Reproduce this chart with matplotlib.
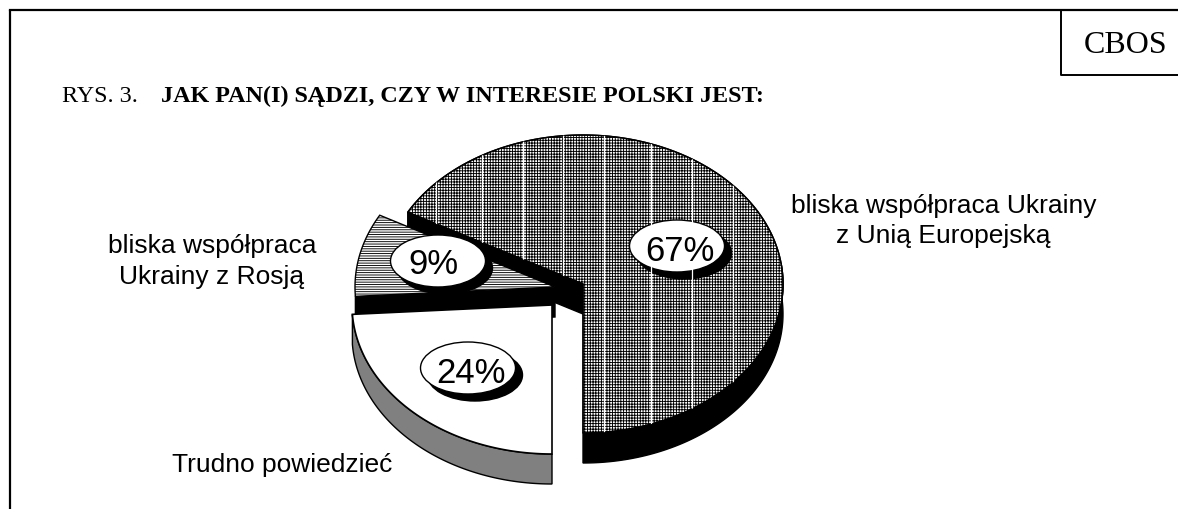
import numpy as np
import matplotlib
matplotlib.use("Agg")
import matplotlib.pyplot as plt
from matplotlib.patches import Polygon, Ellipse

# data
shares = [67, 9, 24]
pct_labels = ["67%", "9%", "24%"]
title_prefix = "RYS. 3."
title_text = "JAK PAN(I) SĄDZI, CZY W INTERESIE POLSKI JEST:"
source_text = "CBOS"

plt.rcParams['hatch.linewidth'] = 0.65

fig = plt.figure(figsize=(11.78, 5.10), dpi=100)
ax = fig.add_axes([0, 0, 1, 1])
ax.set_xlim(0, 1178)
ax.set_ylim(510, 0)
ax.axis('off')

RX = 200
RY = 149
DEPTH = 30


def disc(cx, cy, t):
    t = np.radians(t)
    return cx + RX * np.cos(t), cy - RY * np.sin(t)


def top_face(cx, cy, t0, t1):
    t = np.linspace(t0, t1, 200)
    x, y = disc(cx, cy, t)
    return np.column_stack([np.r_[cx, x], np.r_[cy, y]])


def outer_wall(cx, cy, t0, t1):
    t = np.linspace(t0, t1, 200)
    x, y = disc(cx, cy, t)
    return np.column_stack([np.r_[x, x[::-1]], np.r_[y, y[::-1] + DEPTH]])


def cut_wall(cx, cy, t):
    x, y = disc(cx, cy, t)
    return [(cx, cy), (x, y), (x, y + DEPTH), (cx, cy + DEPTH)]


# slice angles from the shares, starting at 6 o'clock going counter clockwise
angles = -90 + np.cumsum([0] + shares) * 3.6
main_c = (583, 285)
small_c = (555, 288)
rest_c = (552, 306)

# main slice
ax.add_patch(Polygon(outer_wall(*main_c, angles[0], 8), fc='black', ec='black', lw=1))
ax.add_patch(Polygon(cut_wall(*main_c, angles[1]), fc='black', ec='black', lw=1))
main_top = Polygon(top_face(*main_c, angles[0], angles[1]), fc='white', ec='black',
                   lw=1, hatch='++++++')
ax.add_patch(main_top)
# white scan stripes in the pattern
for sx in [436, 482, 523, 563, 604, 651, 692, 733]:
    ln = ax.axvline(sx, color='white', lw=0.9)
    ln.set_clip_path(main_top)
ax.add_patch(Polygon(top_face(*main_c, angles[0], angles[1]), fc='none', ec='black', lw=1))

# small slice
ax.add_patch(Polygon(cut_wall(*small_c, angles[2] - 360), fc='black', ec='black', lw=1))
ax.add_patch(Polygon(top_face(*small_c, angles[1], angles[2]), fc='white', ec='black',
                     lw=1, hatch='-------'))

# third slice
ax.add_patch(Polygon(outer_wall(*rest_c, angles[2], 270), fc='#808080', ec='black', lw=1))
ax.add_patch(Polygon(top_face(*rest_c, angles[2], angles[3]), fc='white', ec='black', lw=1.2))

# percent bubbles
bubbles = [(677, 247), (438, 262), (468, 369)]
text_pos = [(680, 252), (433, 265), (471, 374)]
for (bx, by), (tx, ty), lab in zip(bubbles, text_pos, pct_labels):
    ax.add_patch(Ellipse((bx + 7, by + 7), 95, 52, fc='black', ec='black'))
    ax.add_patch(Ellipse((bx, by), 95, 52, fc='white', ec='black', lw=1))
    ax.text(tx, ty, lab, family='Liberation Sans', fontsize=25, ha='center',
            va='center', color='black')

# category labels
sans = dict(family='Liberation Sans', fontsize=19, color='black', va='baseline', ha='center')
ax.text(944, 213, "bliska współpraca Ukrainy", **sans)
ax.text(943, 243, "z Unią Europejską", **sans)
ax.text(212, 253, "bliska współpraca", **sans)
ax.text(212, 284, "Ukrainy z Rosją", **sans)
ax.text(282, 472, "Trudno powiedzieć", **sans)

# header
ax.text(62, 102, title_prefix, family='Liberation Serif', fontsize=17.4, va='baseline')
ax.text(161, 102, title_text, family='Liberation Serif', fontsize=17.4, weight='bold', va='baseline')
ax.text(1126, 53, source_text, family='Liberation Serif', fontsize=23, ha='center', va='baseline')

# frame
ax.plot([10, 10], [510, 11], color='black', lw=1.6, solid_capstyle='butt')
ax.plot([10, 1178], [11, 11], color='black', lw=1.6, solid_capstyle='projecting')
ax.plot([1061, 1061, 1178], [11, 76, 76], color='black', lw=1.4)

fig.savefig("out.png", dpi=100)
